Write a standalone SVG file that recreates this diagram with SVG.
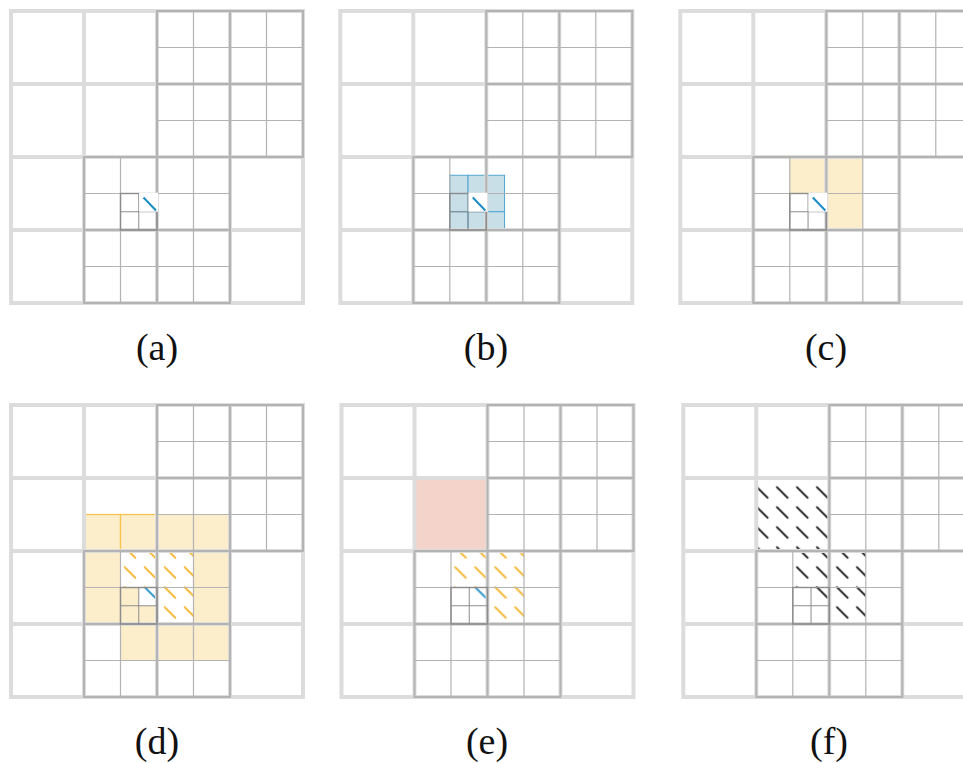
<svg xmlns="http://www.w3.org/2000/svg" xmlns:xlink="http://www.w3.org/1999/xlink" width="963" height="763" viewBox="0 0 963 763">
<style>
.l1{fill:none;stroke:#dcdcdc;stroke-width:4;stroke-linecap:square}
.l2a{fill:none;stroke:#b3b3b3;stroke-width:2;stroke-linecap:square}
.l2b{fill:none;stroke:#b3b3b3;stroke-width:1.2}
.l3a{fill:none;stroke:#8c8c8c;stroke-width:1.4}
.l3b{fill:none;stroke:#8c8c8c;stroke-width:1}
.blue{fill:#c8dfe8;stroke:#4fa6d0;stroke-width:1}
.yel{fill:#fcedcb;stroke:none}
.yelo{fill:#fcedcb;stroke:#f6c24a;stroke-width:1.2}
.pink{fill:#f4d3ca;stroke:none}
.qline{stroke:#1d8bc6;stroke-width:2;fill:none}
.lab{font-family:"Liberation Serif","DejaVu Serif",serif;font-size:38px;fill:#111;text-anchor:middle}
</style>
<defs>
<pattern id="hO" patternUnits="userSpaceOnUse" x="9" y="-2.5" width="20" height="20"><path d="M4.6 4.6L15.4 15.4" stroke="#f2b124" stroke-width="1.8" stroke-linecap="round"/></pattern>
<pattern id="hB" patternUnits="userSpaceOnUse" x="9" y="-2.5" width="20" height="20"><path d="M4.6 4.6L15.4 15.4" stroke="#1d8bc6" stroke-width="1.8" stroke-linecap="round"/></pattern>
<pattern id="hK" patternUnits="userSpaceOnUse" x="9" y="-2.5" width="20" height="20"><path d="M4.6 4.6L15.4 15.4" stroke="#111" stroke-width="1.8" stroke-linecap="round"/></pattern>
<g id="grid">
<path class="l1" d="M0 0H292M0 73H292M0 146H292M0 219H292M0 292H292M0 0V292M73 0V292M146 0V292M219 0V292M292 0V292"/>
<path class="l2b" d="M146 36.5H292M146 109.5H292M182.5 0V146M255.5 0V146M73 182.5H219M73 255.5H219M109.5 146V292M182.5 146V292"/>
<path class="l2a" d="M146 0H292M146 73H292M146 146H292M146 0V146M219 0V146M292 0V146M73 146H219M73 219H219M73 292H219M73 146V292M146 146V292M219 146V292"/>
<path class="l3b" d="M127.75 182.5V219M109.5 200.75H146"/>
<rect class="l3a" x="109.5" y="182.5" width="36.5" height="36.5"/>
</g>
<g id="query">
<rect x="128.2" y="181.6" width="18.9" height="19.1" fill="#fff"/>
<path class="qline" d="M132.5 186.5L145 199.5"/>
</g>
</defs>

<g id="panel-a" transform="translate(11,11)">
<use xlink:href="#grid"/>
<use xlink:href="#query"/>
</g>

<g id="panel-b" transform="translate(340.3,11)">
<g id="b-neighbours">
<rect class="blue" x="109.5" y="164.25" width="18.25" height="18.25"/>
<rect class="blue" x="127.75" y="164.25" width="18.25" height="18.25"/>
<rect class="blue" x="146" y="164.25" width="18.25" height="18.25"/>
<rect class="blue" x="109.5" y="182.5" width="18.25" height="18.25"/>
<rect class="blue" x="146" y="182.5" width="18.25" height="18.25"/>
<rect class="blue" x="109.5" y="200.75" width="18.25" height="18.25"/>
<rect class="blue" x="127.75" y="200.75" width="18.25" height="18.25"/>
<rect class="blue" x="146" y="200.75" width="18.25" height="18.25"/>
</g>
<use xlink:href="#grid"/>
<use xlink:href="#query"/>
</g>

<g id="panel-c" transform="translate(680.3,11)">
<rect class="yel" x="109.5" y="146" width="36.5" height="36.5"/>
<rect class="yel" x="146" y="146" width="36.5" height="36.5"/>
<rect class="yel" x="146" y="182.5" width="36.5" height="36.5"/>
<use xlink:href="#grid"/>
<use xlink:href="#query"/>
</g>

<g id="panel-d" transform="translate(11,405)">
<rect class="yelo" x="73" y="109.5" width="36.5" height="36.5"/>
<rect class="yelo" x="109.5" y="109.5" width="36.5" height="36.5"/>
<rect class="yel" x="146" y="109.5" width="73" height="36.5"/>
<rect class="yel" x="73" y="146" width="36.5" height="73"/>
<rect class="yel" x="182.5" y="146" width="36.5" height="73"/>
<rect class="yel" x="109.5" y="219" width="109.5" height="36.5"/>
<rect class="yel" x="109.5" y="182.5" width="36.5" height="36.5"/>
<rect fill="url(#hO)" x="109.5" y="146" width="73" height="36.5"/>
<rect fill="url(#hO)" x="146" y="182.5" width="36.5" height="36.5"/>
<rect fill="#fff" x="127.75" y="182.5" width="18.25" height="18.25"/>
<rect fill="url(#hB)" x="127.75" y="182.5" width="18.25" height="18.25"/>
<use xlink:href="#grid"/>
</g>

<g id="panel-e" transform="translate(341.5,405)">
<rect class="pink" x="73" y="73" width="73" height="73"/>
<rect fill="url(#hO)" x="109.5" y="146" width="73" height="36.5"/>
<rect fill="url(#hO)" x="146" y="182.5" width="36.5" height="36.5"/>
<rect fill="url(#hB)" x="127.75" y="182.5" width="18.25" height="18.25"/>
<use xlink:href="#grid"/>
</g>

<g id="panel-f" transform="translate(683.3,405)">
<rect fill="url(#hK)" x="73" y="73" width="73" height="73"/>
<rect fill="url(#hK)" x="109.5" y="146" width="73" height="36.5"/>
<rect fill="url(#hK)" x="146" y="182.5" width="36.5" height="36.5"/>
<rect fill="url(#hK)" x="127.75" y="182.5" width="18.25" height="18.25"/>
<use xlink:href="#grid"/>
</g>

<g id="labels">
<text class="lab" x="157" y="360">(a)</text>
<text class="lab" x="486" y="360">(b)</text>
<text class="lab" x="826" y="360">(c)</text>
<text class="lab" x="157" y="754">(d)</text>
<text class="lab" x="487" y="754">(e)</text>
<text class="lab" x="829" y="754">(f)</text>
</g>
</svg>
